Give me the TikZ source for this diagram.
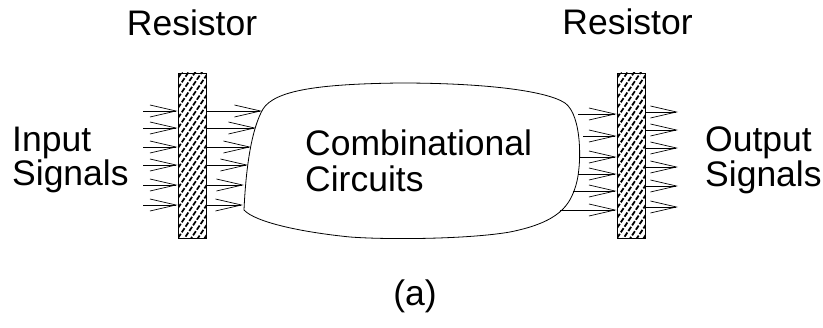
\documentclass[tikz,border=0pt]{standalone}
\usepackage{fontspec}
\setmainfont{Liberation Sans}
\usetikzlibrary{arrows.meta}
\tikzset{
  txt/.style={inner sep=0pt, font=\fontsize{35.5}{36}\selectfont},
  sig/.style={-{Straight Barb[length=26pt,width=12pt]}, line width=0.7pt},
  res/.style={draw, line width=0.9pt, minimum width=28pt, minimum height=165pt, inner sep=0pt,
    path picture={\foreach \k in {0,...,22}
      \draw[line width=1.8pt, dash pattern=on 5pt off 1.8pt]
        ([yshift=\k*10pt-40pt]path picture bounding box.south west) -- ++(32pt,48pt);}},
  blob/.style={draw, line width=0.8pt}
}
\begin{document}
\begin{tikzpicture}[x=1pt,y=-1pt]
\useasboundingbox (0,0) rectangle (823,328);

% resistors
\node[res] (r1) at (192,155.5) {};
\node[res] (r2) at (631,155.5) {};

% combinational circuit blob
\draw[blob] (244,210) .. controls (246,165) and (252,128) .. (263,109)
  .. controls (275,90) and (320,84) .. (400,83)
  .. controls (480,83) and (545,90) .. (565,103)
  .. controls (582,115) and (582,165) .. (576,185)
  .. controls (570,205) and (560,222) .. (510,232)
  .. controls (470,239) and (390,240) .. (350,237)
  .. controls (300,232) and (255,222) .. (244,210) -- cycle;

% texts
\node[txt, anchor=base] (tr1) at (192,36) {Resistor};
\node[txt, anchor=base] (tr2) at (627.5,35) {Resistor};
\node[txt, anchor=north west, align=left, font=\fontsize{35.5}{31}\selectfont] (tin) at (12,127) {Input\\Signals};
\node[txt, anchor=north west, align=left, font=\fontsize{35.5}{30}\selectfont] (tout) at (705,127) {Output\\Signals};
\node[txt, anchor=north west, align=left, font=\fontsize{35.5}{36}\selectfont] (tcc) at (305,130) {Combinational\\Circuits};
\node[txt, anchor=base] (ta) at (415,306) {(a)};

% input signals
\foreach \y [count=\i] in {111,128,147,165,185,205} {
  \coordinate (in\i) at (143,\y);
  \draw[sig] (in\i) -- (r1.west |- in\i);
}
% resistor to blob
\foreach \x/\y [count=\i] in {262/111,256/128,251/147,248/165,244/185,243/205} {
  \coordinate (b\i) at (\x,\y);
  \draw[sig] (r1.east |- b\i) -- (b\i);
}
% blob to right resistor
\foreach \x/\y [count=\i] in {578/114,583/136,580/157,578/174,573/191,560/210} {
  \coordinate (c\i) at (\x,\y);
  \draw[sig] (c\i) -- (r2.west |- c\i);
}
% output signals
\foreach \y [count=\i] in {112,130,148,167,186,207} {
  \coordinate (o\i) at (678,\y);
  \draw[sig] (r2.east |- o\i) -- (o\i);
}
\end{tikzpicture}
\end{document}
